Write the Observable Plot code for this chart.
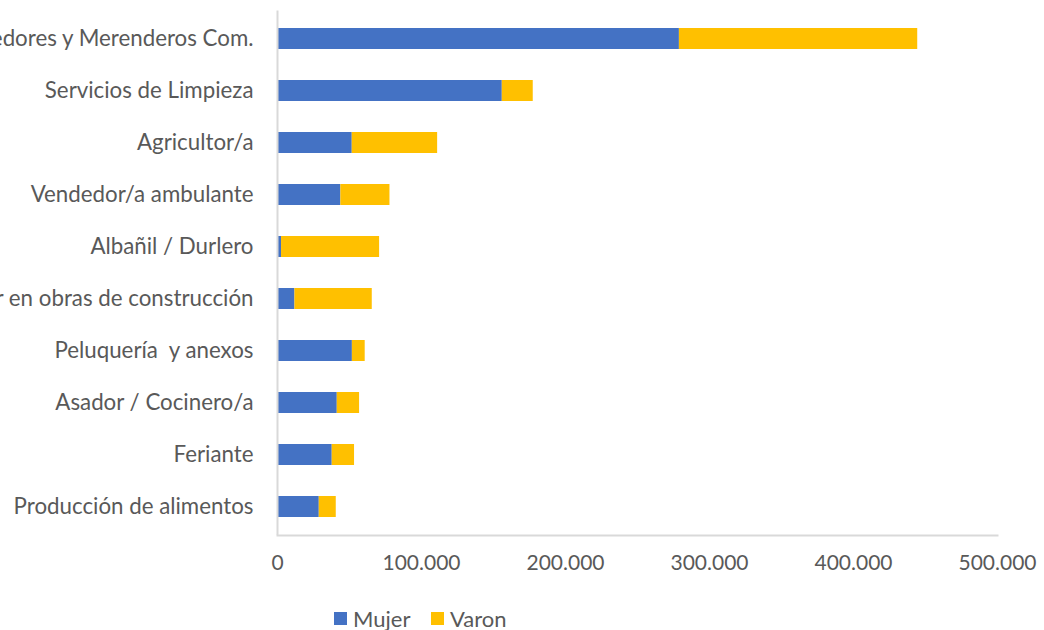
<!DOCTYPE html>
<html>
<head>
<meta charset="utf-8">
<script src="https://cdn.jsdelivr.net/npm/d3@7"></script>
<script src="https://cdn.jsdelivr.net/npm/@observablehq/plot@0.6"></script>
<style>
  html, body { margin: 0; padding: 0; background: #fff; overflow: hidden; }
  #chart svg { display: block; }
  .legend { position: relative; height: 30px; font-family: Lato, sans-serif; font-size: 22px; color: #595959; }
  .legend .item { position: absolute; top: 5px; display: flex; align-items: center; }
  .legend .sw { width: 13px; height: 13px; display: inline-block; margin-right: 6px; }
</style>
</head>
<body>
<div id="chart"></div>
<div class="legend" id="legend"></div>
<script>
const categories = [
  "Comedores y Merenderos Com.",
  "Servicios de Limpieza",
  "Agricultor/a",
  "Vendedor/a ambulante",
  "Albañil / Durlero",
  "Trabajador en obras de construcción",
  "Peluquería  y anexos",
  "Asador / Cocinero/a",
  "Feriante",
  "Producción de alimentos"
];
const mujer = [279100, 156100, 51900, 44000, 2800, 12100, 52000, 41500, 38000, 29000];
const varon = [165500, 21500, 59300, 34100, 68100, 53700, 8900, 15500, 15500, 11800];
const series = ["Mujer", "Varon"];
const colors = ["#4472C4", "#FFC000"];
const xTicks = [0, 100000, 200000, 300000, 400000, 500000];

const data = [];
series.forEach((s, si) => {
  const vals = si === 0 ? mujer : varon;
  categories.forEach((c, i) => data.push({categoria: c, sexo: s, valor: vals[i]}));
});

const fmt = d3.formatLocale({decimal: ",", thousands: ".", grouping: [3], currency: ["", ""]}).format(",.0f");

const chart = Plot.plot({
  width: 1044,
  height: 600,
  marginLeft: 277,
  marginRight: 47,
  marginTop: 10.5,
  marginBottom: 65,
  style: {fontFamily: "Lato, sans-serif", fontSize: "21px", color: "#595959", background: "#fff"},
  x: {domain: [0, 500000], ticks: xTicks, tickFormat: fmt, label: null},
  y: {domain: categories, paddingInner: 0.6, paddingOuter: 0.295, label: null},
  color: {domain: series, range: colors},
  marks: [
    Plot.barX(data, {y: "categoria", x: "valor", fill: "sexo", order: series}),
    Plot.ruleX([0], {stroke: "#d9d9d9", strokeWidth: 2}),
    Plot.frame({anchor: "bottom", stroke: "#d9d9d9", strokeWidth: 2}),
    Plot.axisX({ticks: xTicks, tickFormat: fmt, tickSize: 0, tickPadding: 20, label: null}),
    Plot.axisY({tickSize: 0, tickPadding: 24, fontSize: 22.3, label: null})
  ]
});
document.getElementById("chart").appendChild(chart);

const legend = document.getElementById("legend");
const positions = [334, 431];
series.forEach((s, i) => {
  const it = document.createElement("div");
  it.className = "item";
  it.style.left = positions[i] + "px";
  it.innerHTML = `<span class="sw" style="background:${colors[i]}"></span><span>${s}</span>`;
  legend.appendChild(it);
});
</script>
</body>
</html>
